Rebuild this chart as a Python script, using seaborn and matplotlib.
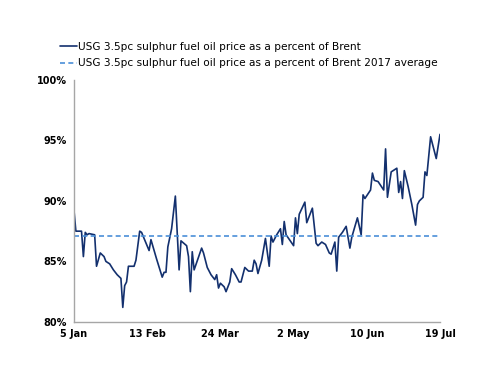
import pandas as pd
import matplotlib
matplotlib.use("Agg")
import matplotlib.pyplot as plt
import matplotlib.dates as mdates
import seaborn as sns

# dias desde el 5 ene 2017 y valores (% de Brent)
dias = [0, 1, 4, 5, 6, 7, 8, 11, 12, 14, 16, 17, 19, 21, 23, 25, 26, 27, 28, 29,
        32, 33, 35, 36, 40, 41, 44, 47, 48, 49, 50, 52, 54, 56, 57, 60, 61, 62, 63, 64,
        68, 69, 71, 73, 75, 76, 77, 78, 80, 81, 83, 84, 86, 88, 89, 91, 93, 95, 96, 97,
        98, 100, 102, 104, 105, 106, 108, 110, 111, 112, 113, 117, 118, 119, 120, 123, 124, 127, 129, 130,
        132, 134, 136, 137, 139, 140, 141, 143, 145, 147, 148, 151, 153, 154, 155, 158, 159, 160, 162, 165,
        166, 167, 169, 170, 172, 173, 174, 175, 176, 178, 180, 182, 183, 184, 186, 187, 188, 190, 193, 195]
valores = [89.2, 87.5, 87.5, 85.4, 87.4, 87.2, 87.3, 87.2, 84.6, 85.7, 85.4, 85.0, 84.8, 84.3, 83.9, 83.6, 81.2, 83.0, 83.3, 84.6,
           84.6, 85.1, 87.5, 87.4, 85.9, 86.8, 85.2, 83.7, 84.1, 84.1, 86.2, 87.7, 90.4, 84.3, 86.7, 86.3, 85.4, 82.5, 85.8, 84.3,
           86.1, 85.7, 84.5, 83.9, 83.5, 83.9, 82.8, 83.2, 82.9, 82.5, 83.3, 84.4, 83.9, 83.3, 83.3, 84.5, 84.2, 84.2, 85.1, 84.8,
           84.0, 85.1, 86.9, 84.6, 87.1, 86.6, 87.2, 87.7, 86.4, 88.3, 87.2, 86.3, 88.6, 87.3, 88.9, 89.9, 88.2, 89.4, 86.5, 86.3,
           86.6, 86.4, 85.7, 85.6, 86.6, 84.2, 87.0, 87.4, 87.9, 86.1, 87.0, 88.6, 87.2, 90.5, 90.2, 90.9, 92.3, 91.7, 91.6, 90.9,
           94.3, 90.3, 92.4, 92.5, 92.7, 90.7, 91.6, 90.2, 92.5, 91.2, 89.7, 88.0, 89.7, 90.0, 90.3, 92.4, 92.1, 95.3, 93.5, 95.5]
promedio_2017 = 87.1

etiqueta_serie = "USG 3.5pc sulphur fuel oil price as a percent of Brent"
etiqueta_prom = "USG 3.5pc sulphur fuel oil price as a percent of Brent 2017 average"

inicio = pd.Timestamp("2017-01-05")
df = pd.DataFrame({"fecha": inicio + pd.to_timedelta(dias, unit="D"), "valor": valores})

ticks_x = pd.date_range(inicio, periods=6, freq="39D")
ticks_y = [80, 85, 90, 95, 100]

sns.set_style("white")
plt.rcParams["font.family"] = ["DejaVu Sans"]
plt.rcParams["text.color"] = "black"

fig = plt.figure(figsize=(5, 3.86), dpi=100)
ax = fig.add_axes([0.148, 0.166, 0.732, 0.627])

sns.lineplot(data=df, x="fecha", y="valor", ax=ax, color="#13306e", linewidth=1.2,
             label=etiqueta_serie, legend=False)
ax.axhline(promedio_2017, color="#4a8fd8", linewidth=1.2, linestyle=(0, (3, 2)),
           label=etiqueta_prom)

ax.set_xlim(ticks_x[0], ticks_x[-1])
ax.set_ylim(80, 100)
ax.set_xticks(ticks_x)
ax.xaxis.set_major_formatter(mdates.DateFormatter("%-d %b"))
ax.set_yticks(ticks_y)
ax.set_yticklabels([f"{v}%" for v in ticks_y])
ax.set_xlabel("")
ax.set_ylabel("")

for lado in ["top", "right"]:
    ax.spines[lado].set_visible(False)
for lado in ["left", "bottom"]:
    ax.spines[lado].set_color("#a6a6a6")
    ax.spines[lado].set_linewidth(1)
ax.tick_params(axis="both", direction="out", length=3, width=1, color="#a6a6a6",
               labelsize=7, pad=2, labelcolor="black")
for t in ax.get_xticklabels() + ax.get_yticklabels():
    t.set_fontweight("bold")

h, l = ax.get_legend_handles_labels()
fig.legend(h, l, loc="upper left", bbox_to_anchor=(0.112, 0.903), frameon=False,
           fontsize=7.6, handlelength=1.6, handletextpad=0.1, labelspacing=0.62,
           borderaxespad=0, labelcolor="black")

fig.savefig("out.png", dpi=100)
